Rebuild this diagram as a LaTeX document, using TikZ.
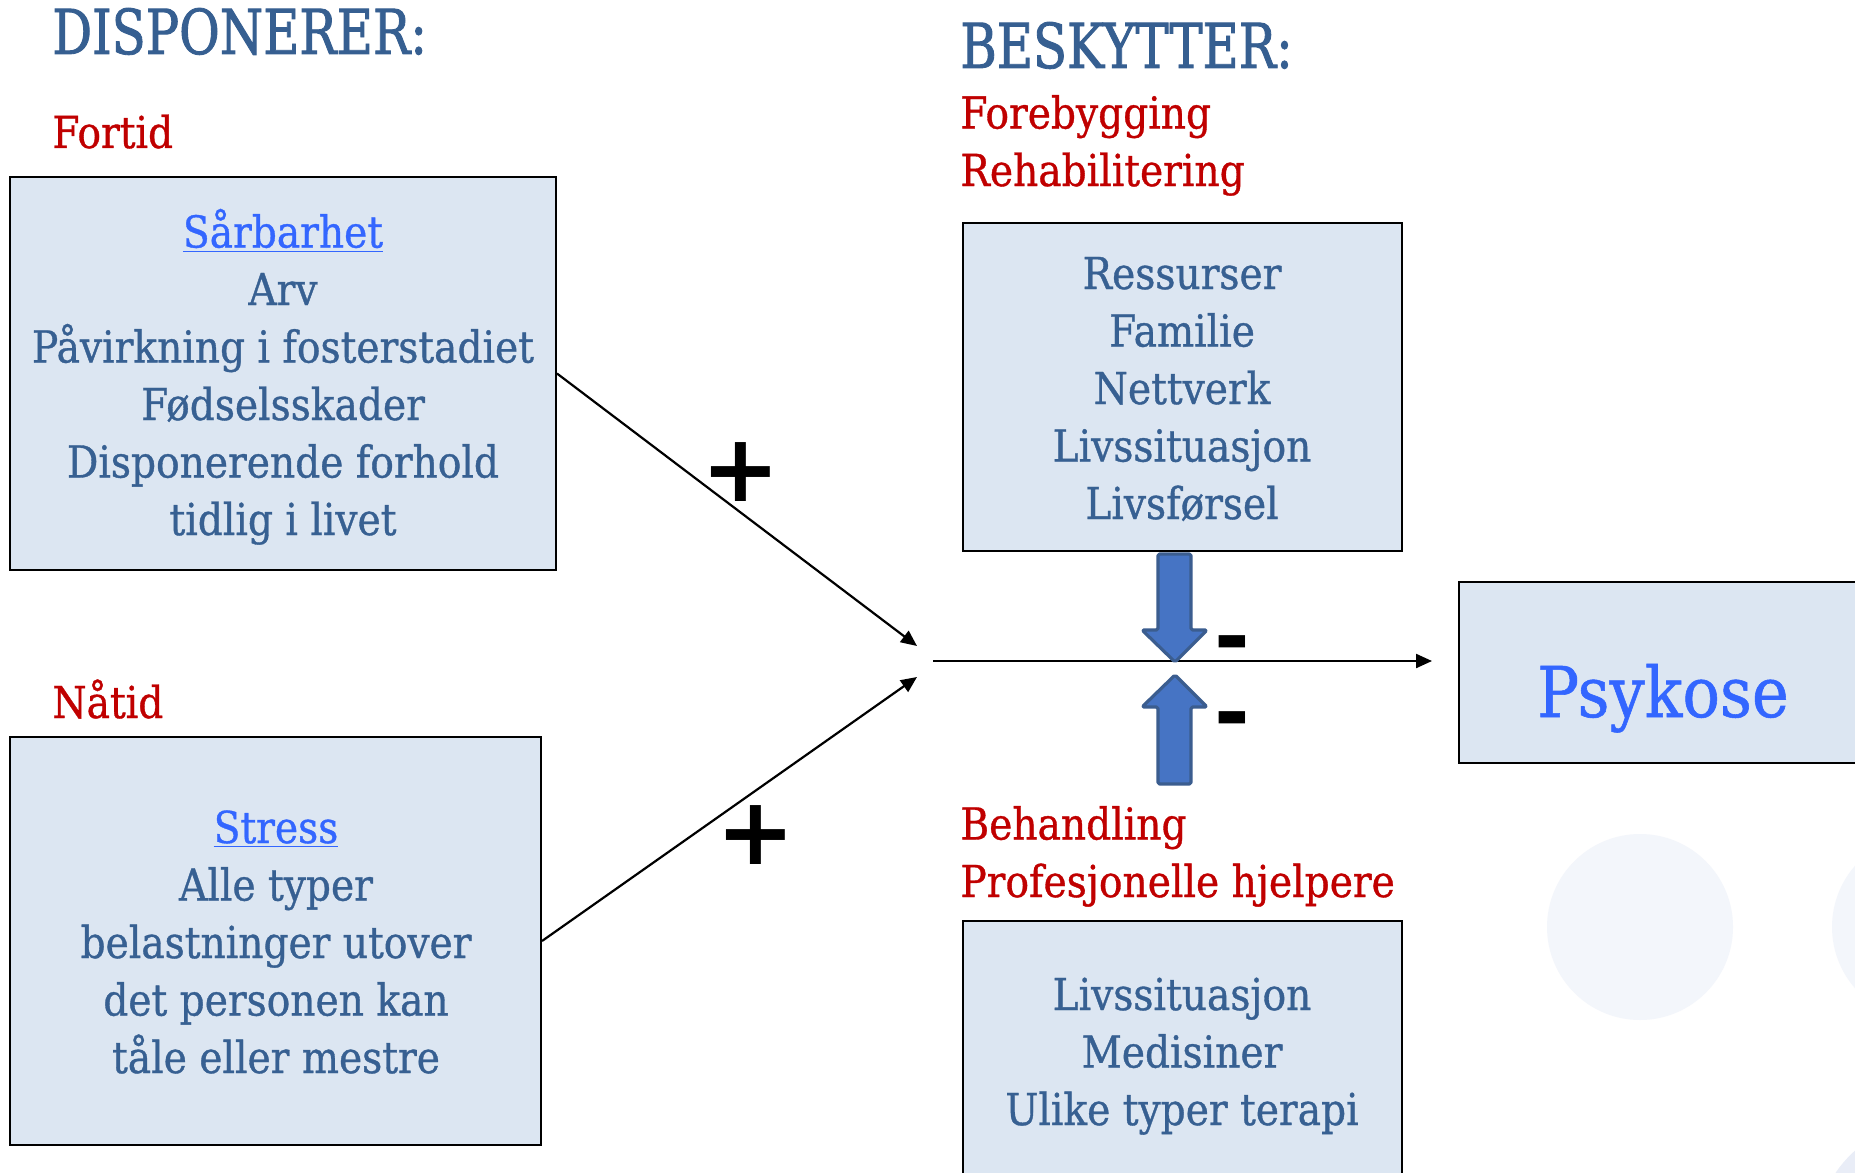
\documentclass[tikz,border=0pt]{standalone}
\usepackage{fontspec}
\setmainfont{DejaVu Serif}[FakeStretch=0.89,FakeBold=0.8]
\newfontfamily\headfont{DejaVu Serif}[FakeStretch=0.8,FakeBold=1.4]
\newfontfamily\symfont{DejaVu Sans}
\usetikzlibrary{arrows.meta}
\definecolor{txtblue}{RGB}{55,96,146}
\definecolor{hdblue}{RGB}{54,95,145}
\definecolor{dred}{RGB}{192,0,0}
\definecolor{lnkblue}{RGB}{51,102,255}
\definecolor{boxfill}{RGB}{220,230,242}
\definecolor{arrfill}{RGB}{70,116,196}
\definecolor{arrline}{RGB}{59,93,143}
\definecolor{circa}{RGB}{243,246,251}
\definecolor{circb}{RGB}{233,237,247}
\begin{document}
\begin{tikzpicture}[x=0.5pt,y=-0.5pt,
 boxnode/.style={draw=black, line width=1pt, fill=boxfill, rectangle, inner sep=0pt},
 bodytext/.style={text=txtblue, align=center, font=\fontsize{22}{28.75}\selectfont, inner sep=0pt, anchor=base},
 redtext/.style={text=dred, align=left, font=\fontsize{22}{28.75}\selectfont, inner sep=0pt, anchor=base west},
 heading/.style={text=hdblue, font=\headfont\fontsize{31}{36}\selectfont, inner sep=0pt, anchor=base west},
 conn/.style={line width=1.1pt, -{Triangle[length=8pt,width=7pt]}},
 blockarrow/.style={fill=arrfill, draw=arrline, line width=1.6pt, line join=round, rounded corners=0.8pt},
 plussign/.style={font=\symfont\bfseries\fontsize{47}{47}\selectfont, inner sep=0pt},
 minussign/.style={font=\symfont\bfseries\fontsize{43}{43}\selectfont, inner sep=0pt}
]
\useasboundingbox (0,0) rectangle (1855,1172);
\clip (0,0) rectangle (1855,1172);
\fill[white] (0,0) rectangle (1855,1172);
% background circles
\fill[circa] (1640,927) circle[radius=46.5pt];
\fill[circa] (1925,927) circle[radius=46.5pt];
\fill[circb] (1935,1240) circle[radius=60pt];

% headings
\node[heading] (hdisp) at (52,54) {DISPONERER:};
\node[heading] (hbesk) at (960,68) {BESKYTTER:};
\node[redtext] (lfortid) at (52,148) {Fortid};
\node[redtext] (lnatid) at (52,718) {Nåtid};
\node[redtext] (lforeb) at (960,186) {Forebygging\\Rehabilitering};
\node[redtext] (lbehand) at (960,897) {Behandling\\Profesjonelle hjelpere};

% boxes
\node[boxnode, minimum width=273pt, minimum height=196.5pt] (b1) at (283,373.5) {};
\node[boxnode, minimum width=265.5pt, minimum height=204pt] (b2) at (275.5,941) {};
\node[boxnode, minimum width=219.5pt, minimum height=164pt] (b3) at (1182.5,387) {};
\node[boxnode, minimum width=219.5pt, minimum height=134.5pt] (b4) at (1182.5,1055.5) {};
\node[boxnode, minimum width=205.5pt, minimum height=90.5pt] (psy) at (1664.5,672.5) {};

% box texts (anchor = baseline of last line)
\node[bodytext] (t1) at (283,535) {\textcolor{lnkblue}{\underline{Sårbarhet}}\\Arv\\Påvirkning i fosterstadiet\\Fødselsskader\\Disponerende forhold\\tidlig i livet};
\node[bodytext] (t2) at (276,1073) {\textcolor{lnkblue}{\underline{Stress}}\\Alle typer\\belastninger utover\\det personen kan\\tåle eller mestre};
\node[bodytext] (t3) at (1182,519) {Ressurser\\Familie\\Nettverk\\Livssituasjon\\Livsførsel};
\node[bodytext] (t4) at (1182,1125) {Livssituasjon\\Medisiner\\Ulike typer terapi};
\node[text=lnkblue, font=\fontsize{35}{40}\selectfont, inner sep=0pt, anchor=base] (tpsy) at (1663,717) {Psykose};

% connectors
\coordinate (j1) at (917,646);
\coordinate (j2) at (917,677);
\coordinate (hstart) at (933,661);
\coordinate (hend) at (1432,661);
\draw[conn] (b1.east) -- (j1);
\draw[conn] (b2.east) -- (j2);
\draw[conn] (hstart) -- (hend);

% block arrows
\draw[blockarrow] (1158,554) -- (1191,554) -- (1191,630) -- (1207,630) -- (1175,662) -- (1142,630) -- (1158,630) -- cycle;
\draw[blockarrow] (1175,675) -- (1207,707) -- (1191,707) -- (1191,784) -- (1158,784) -- (1158,707) -- (1142,707) -- cycle;

% signs
\node[plussign] (p1) at (741,472) {+};
\node[plussign] (p2) at (756,835) {+};
\node[minussign] (m1) at (1232,651) {-};
\node[minussign] (m2) at (1232,727) {-};
\end{tikzpicture}
\end{document}
